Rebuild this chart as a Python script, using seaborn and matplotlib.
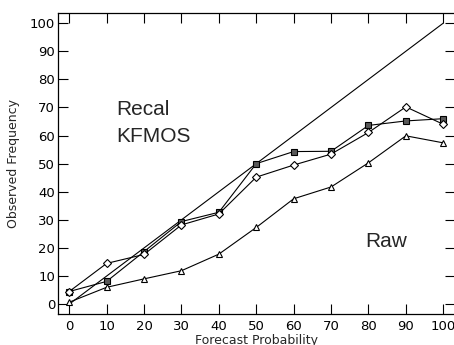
import numpy as np
import pandas as pd
import matplotlib
matplotlib.use('Agg')
import matplotlib.pyplot as plt
import seaborn as sns

# reliability diagram values
prob = [0, 10, 20, 30, 40, 50, 60, 70, 80, 90, 100]
recal = [4.5, 8.1, 18.7, 29.4, 32.7, 50.0, 54.3, 54.4, 63.6, 65.2, 66.0]
kfmos = [4.5, 14.5, 17.7, 28.2, 32.1, 45.2, 49.5, 53.4, 61.1, 70.2, 64.0]
raw = [0.7, 6.0, 9.0, 11.9, 17.8, 27.3, 37.5, 41.7, 50.3, 59.9, 57.4]
perfect = [0, 100]

sns.set_style('ticks')
plt.rcParams['font.family'] = ['DejaVu Sans']

fig = plt.figure(figsize=(4.54, 3.45), dpi=100)
ax = fig.add_axes([58 / 454, 31 / 345, 396.5 / 454, 300.7 / 345])

sns.lineplot(x=[0, 100], y=perfect, ax=ax, color='black', lw=0.8)
sns.lineplot(x=prob, y=recal, ax=ax, color='black', lw=0.8, marker='s',
             markersize=5, markerfacecolor='0.35', markeredgecolor='black', markeredgewidth=0.8)
sns.lineplot(x=prob, y=kfmos, ax=ax, color='black', lw=0.8, marker='D',
             markersize=4, markerfacecolor='white', markeredgecolor='black', markeredgewidth=0.8)
sns.lineplot(x=prob, y=raw, ax=ax, color='black', lw=0.8, marker='^',
             markersize=5, markerfacecolor='white', markeredgecolor='black', markeredgewidth=0.8)

ax.set_xlim(-3, 103)
ax.set_ylim(-3.5, 103.5)
ax.set_xticks(range(0, 101, 10))
ax.set_yticks(range(0, 101, 10))
ax.tick_params(direction='in', length=7, width=0.8, labelsize=9.5, colors='black',
               top=True, right=True)
ax.tick_params(axis='y', pad=2)
ax.tick_params(axis='x', pad=4)
for s in ax.spines.values():
    s.set_visible(True)
    s.set_linewidth(0.9)
    s.set_color('black')

ax.set_xlabel('Forecast Probability', fontsize=9, labelpad=1)
ax.set_ylabel('Observed Frequency', fontsize=9, labelpad=7)

ax.text(12.6, 67.3, 'Recal', fontsize=15, family='Liberation Sans')
ax.text(12.6, 57.7, 'KFMOS', fontsize=15, family='Liberation Sans')
ax.text(79.1, 20.3, 'Raw', fontsize=15, family='Liberation Sans')

fig.savefig('out.png', dpi=100)
